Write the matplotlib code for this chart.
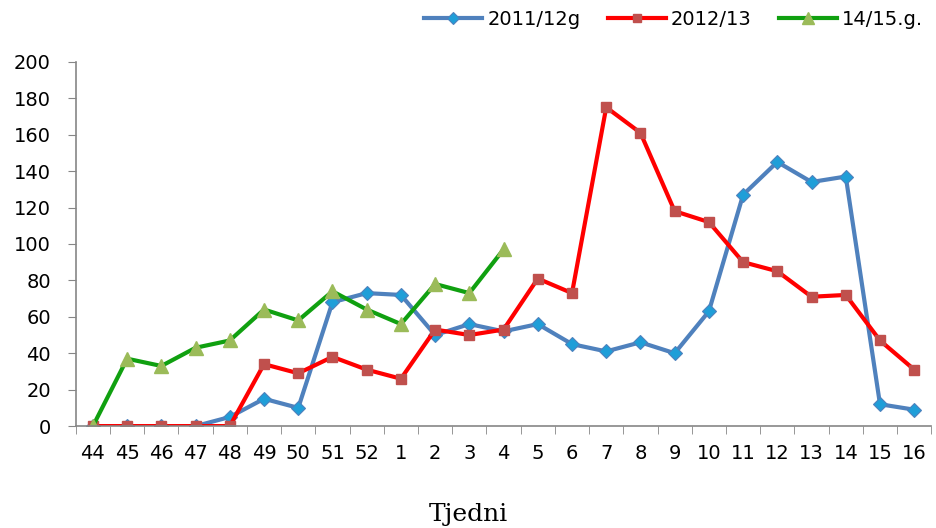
import numpy as np
import matplotlib.pyplot as plt

weeks = ['44', '45', '46', '47', '48', '49', '50', '51', '52', '1', '2', '3', '4',
         '5', '6', '7', '8', '9', '10', '11', '12', '13', '14', '15', '16']
s2011 = [0, 0, 0, 0, 5, 15, 10, 68, 73, 72, 50, 56, 52,
         56, 45, 41, 46, 40, 63, 127, 145, 134, 137, 12, 9]
s2012 = [0, 0, 0, 0, 0, 34, 29, 38, 31, 26, 53, 50, 53,
         81, 73, 175, 161, 118, 112, 90, 85, 71, 72, 47, 31]
s2014 = [0, 37, 33, 43, 47, 64, 58, 74, 64, 56, 78, 73, 97]

x = np.arange(len(weeks))

fig = plt.figure(figsize=(9.36, 5.28), dpi=100)
ax = fig.add_axes([0.081, 0.193, 0.914, 0.69])

ax.plot(x, s2011, color='#4F81BD', lw=3, marker='D', ms=7.5,
        mfc='#1F9ED8', mec='#4F81BD', mew=0.8, label='2011/12g')
ax.plot(x, s2012, color='#FF0000', lw=3, marker='s', ms=7,
        mfc='#C0504D', mec='#C0504D', label='2012/13')
ax.plot(x[:len(s2014)], s2014, color='#10A010', lw=3, marker='^', ms=10.5,
        mfc='#9BBB59', mec='#9BBB59', label='14/15.g.')

ax.set_xlim(-0.5, len(weeks) - 0.5)
ax.set_ylim(0, 200)
ax.set_yticks(range(0, 201, 20))
ax.set_xticks(x)
ax.set_xticklabels(weeks)
ax.set_xticks(np.arange(-0.5, len(weeks), 1), minor=True)
ax.tick_params(axis='x', which='major', length=0, labelsize=14, pad=13)
ax.tick_params(axis='x', which='minor', length=6, color='#868686', direction='out')
ax.tick_params(axis='y', length=6, color='#868686', labelsize=14, pad=12)

for s in ['top', 'right']:
    ax.spines[s].set_visible(False)
for s in ['left', 'bottom']:
    ax.spines[s].set_color('#868686')
    ax.spines[s].set_linewidth(1.2)

# axis title sits in the middle of the figure, not of the axes
fig.text(0.5, 0.025, 'Tjedni', family='DejaVu Serif', fontsize=18, ha='center', va='center')

leg = fig.legend(loc='upper right', bbox_to_anchor=(1.005, 1.015), ncol=3, frameon=False,
                 fontsize=14, handlelength=3.0, columnspacing=1.4, handletextpad=0.25,
                 markerscale=0.85)

fig.savefig('out.png', dpi=100)
